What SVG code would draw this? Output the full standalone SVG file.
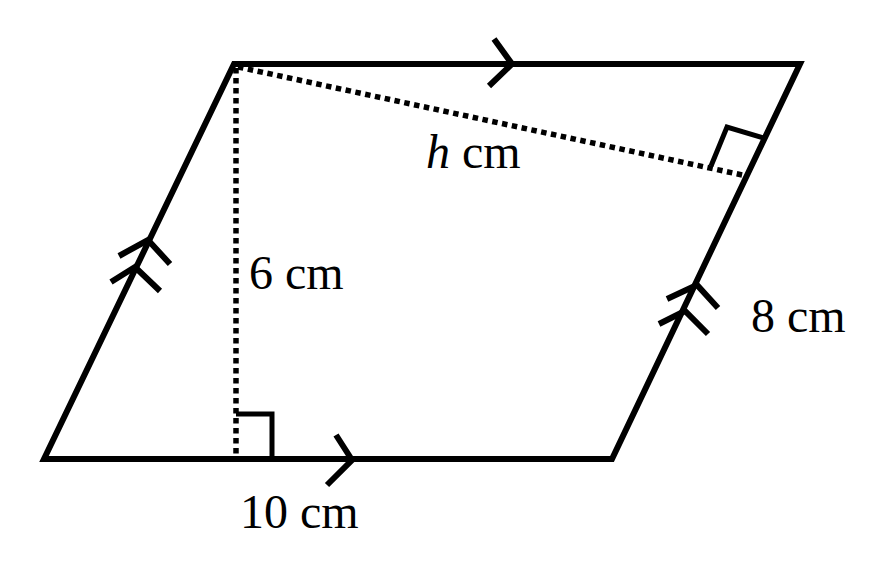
<svg xmlns="http://www.w3.org/2000/svg" width="888" height="570" viewBox="0 0 888 570">
<style>
.edge{fill:none;stroke:#000;stroke-width:6;stroke-linejoin:miter}
.mark{fill:none;stroke:#000;stroke-width:6;stroke-linecap:butt;stroke-linejoin:miter}
.dot{fill:none;stroke:#000;stroke-width:5.5;stroke-dasharray:5.5 4.5}
.ra{fill:none;stroke:#000;stroke-width:5}
text{font-family:"Liberation Serif","Times New Roman",serif;font-size:48px;fill:#000}
</style>
<rect width="888" height="570" fill="#fff"/>
<g id="parallelogram">
<polygon class="edge" points="44,459 612,459 800,64 234,64"/>
</g>
<g id="connectors">
<line class="dot" x1="236" y1="68" x2="236" y2="457"/>
<line class="dot" x1="238" y1="67" x2="747" y2="176"/>
<polyline class="ra" points="236,414 272,414 272,459"/>
<polyline class="ra" points="764,138 727,127 711,166"/>
<polyline class="mark" points="494,39 512,64 489,86"/>
<polyline class="mark" points="336,435 352,460 327,485"/>
<polyline class="mark" points="119,256 148,240 170,264"/>
<polyline class="mark" points="111,282 135,267 160,291"/>
<polyline class="mark" points="667,299 697,285 718,308"/>
<polyline class="mark" points="659,324 685,311 708,334"/>
</g>
<g id="labels">
<text x="426" y="168"><tspan font-style="italic">h</tspan> cm</text>
<text x="249" y="289">6 cm</text>
<text x="751" y="332">8 cm</text>
<text x="240" y="528">10 cm</text>
</g>
</svg>
